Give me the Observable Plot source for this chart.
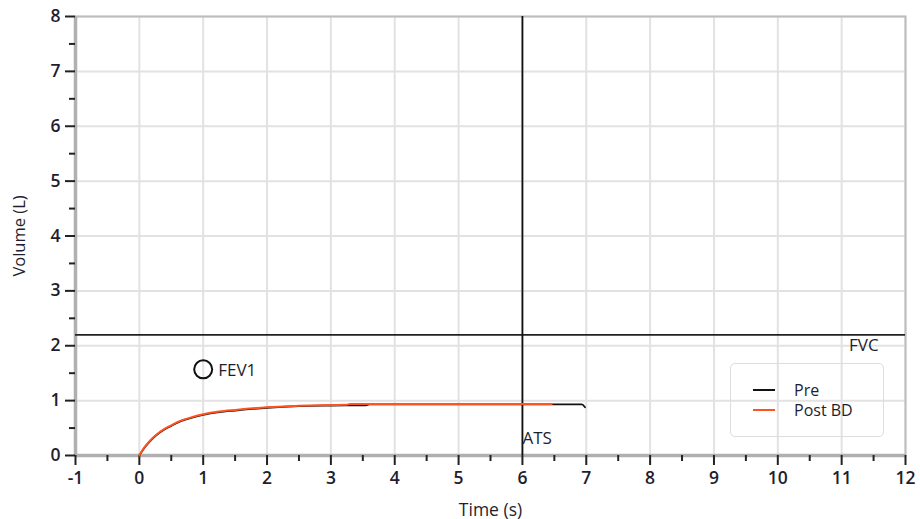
<!DOCTYPE html>
<html>
<head>
<meta charset="utf-8">
<script src="https://cdn.jsdelivr.net/npm/d3@7"></script>
<script src="https://cdn.jsdelivr.net/npm/@observablehq/plot@0.6"></script>
<style>
  body { margin: 0; background: #fff; }
  #wrap { position: relative; width: 920px; height: 519px; font-family: "Open Sans", sans-serif; }
  #legend { position: absolute; left: 730px; top: 363px; width: 154px; height: 74px; border: 1.5px solid #ddd; border-radius: 5px; box-sizing: border-box; font-size: 16px; color: #1e1e2e; }
  .row { position: absolute; left: 22px; display: flex; align-items: center; height: 18px; line-height: 18px; }
  .sw { width: 22px; height: 0; border-top: 2px solid #000; margin-right: 19px; }
</style>
</head>
<body>
<div id="wrap"></div>
<script>
// Pre-bronchodilator curve (time s, volume L)
const preT = [0, 0.05, 0.1, 0.2, 0.3, 0.4, 0.5, 0.6, 0.8, 1.0, 1.25, 1.5, 2.0, 2.5, 3.0, 3.55, 3.6, 4.0, 5.0, 6.0, 6.93, 6.98];
const preV = [0, 0.09, 0.17, 0.30, 0.40, 0.48, 0.54, 0.60, 0.68, 0.74, 0.79, 0.82, 0.87, 0.90, 0.91, 0.915, 0.93, 0.93, 0.93, 0.93, 0.93, 0.88];
// Post-bronchodilator curve
const postT = [0, 0.05, 0.1, 0.2, 0.3, 0.4, 0.5, 0.6, 0.8, 1.0, 1.25, 1.5, 2.0, 2.5, 3.0, 3.25, 3.3, 4.0, 5.0, 6.0, 6.46];
const postV = [0, 0.10, 0.18, 0.31, 0.41, 0.49, 0.55, 0.61, 0.69, 0.75, 0.80, 0.83, 0.88, 0.905, 0.92, 0.925, 0.94, 0.94, 0.94, 0.94, 0.94];
// Reference markers
const fvcLevel = 2.2;
const atsTime = 6;
const fev1 = [{t: 1.0, v: 1.57}];
const xTicks = d3.range(-1, 13, 1);
const xMinor = d3.range(-0.5, 12, 1);
const yTicks = d3.range(0, 9, 1);
const yMinor = d3.range(0.5, 8, 1);
const seriesNames = ["Pre", "Post BD"];
const seriesColors = ["#111111", "#ff5420"];

const pre = preT.map((t, i) => ({t, v: preV[i]}));
const post = postT.map((t, i) => ({t, v: postV[i]}));

const tickColor = "#222";
const labelColor = "#1e1e2e";
const fmt = d => String(d);

const chart = Plot.plot({
  width: 920,
  height: 519,
  marginLeft: 75,
  marginRight: 15,
  marginTop: 16,
  marginBottom: 64,
  style: {fontFamily: "'Open Sans', sans-serif", fontSize: "16px", color: labelColor, background: "#fff"},
  x: {domain: [-1, 12]},
  y: {domain: [0, 8]},
  marks: [
    Plot.gridX(xTicks, {stroke: "#e2e2e2", strokeOpacity: 1, strokeWidth: 2}),
    Plot.gridY(yTicks, {stroke: "#e2e2e2", strokeOpacity: 1, strokeWidth: 2}),
    Plot.frame({stroke: "#bdbdbd", strokeWidth: 2}),
    Plot.ruleX([-1], {stroke: "#b0b0b0", strokeWidth: 3.5}),
    Plot.ruleY([0], {stroke: "#b0b0b0", strokeWidth: 3.5}),
    Plot.axisX(xTicks, {tickSize: 10, tickPadding: 6, stroke: tickColor, strokeWidth: 2, fontWeight: 600, fontSize: 17.5, fill: labelColor,
      tickFormat: fmt, label: null}),
    Plot.axisX(xMinor, {tickSize: 6, text: null, stroke: tickColor, strokeWidth: 2, label: null}),
    Plot.axisX([], {tickSize: 0, text: null, fill: labelColor, fontSize: 17.5,
      label: "Time (s)", labelAnchor: "center", labelArrow: "none", labelOffset: 60}),
    Plot.axisY(yTicks, {tickSize: 10, tickPadding: 5, stroke: tickColor, strokeWidth: 2, fontWeight: 600, fontSize: 17.5, fill: labelColor,
      tickFormat: fmt, label: null}),
    Plot.axisY(yMinor, {tickSize: 6, text: null, stroke: tickColor, strokeWidth: 2, label: null}),
    Plot.axisY([], {tickSize: 0, text: null, fill: labelColor, fontSize: 16.5,
      label: "Volume (L)", labelAnchor: "center", labelArrow: "none", labelOffset: 62}),
    Plot.ruleY([fvcLevel], {stroke: "#222", strokeWidth: 1.8}),
    Plot.ruleX([atsTime], {stroke: "#111", strokeWidth: 1.8}),
    Plot.text(["FVC"], {x: 11.58, y: 2.0, textAnchor: "end", fill: labelColor, fontSize: 17}),
    Plot.text(["ATS"], {x: atsTime, y: 0.31, textAnchor: "start", fill: labelColor, fontSize: 17}),
    Plot.dot(fev1, {x: "t", y: "v", r: 9, stroke: "#111", strokeWidth: 2, fill: "none"}),
    Plot.text(fev1, {x: "t", y: "v", text: () => "FEV1", dx: 15, dy: 1, textAnchor: "start", fill: labelColor, fontSize: 17}),
    Plot.line(pre, {x: "t", y: "v", stroke: seriesColors[0], strokeWidth: 1.8, curve: "monotone-x"}),
    Plot.line(post, {x: "t", y: "v", stroke: seriesColors[1], strokeWidth: 2, curve: "monotone-x"})
  ]
});

const wrap = document.getElementById("wrap");
wrap.appendChild(chart);

const legend = document.createElement("div");
legend.id = "legend";
seriesNames.forEach((name, i) => {
  const row = document.createElement("div");
  row.className = "row";
  row.style.top = (17 + i * 20) + "px";
  const sw = document.createElement("div");
  sw.className = "sw";
  sw.style.borderTopColor = seriesColors[i];
  const lab = document.createElement("span");
  lab.textContent = name;
  row.appendChild(sw);
  row.appendChild(lab);
  legend.appendChild(row);
});
wrap.appendChild(legend);
</script>
</body>
</html>
